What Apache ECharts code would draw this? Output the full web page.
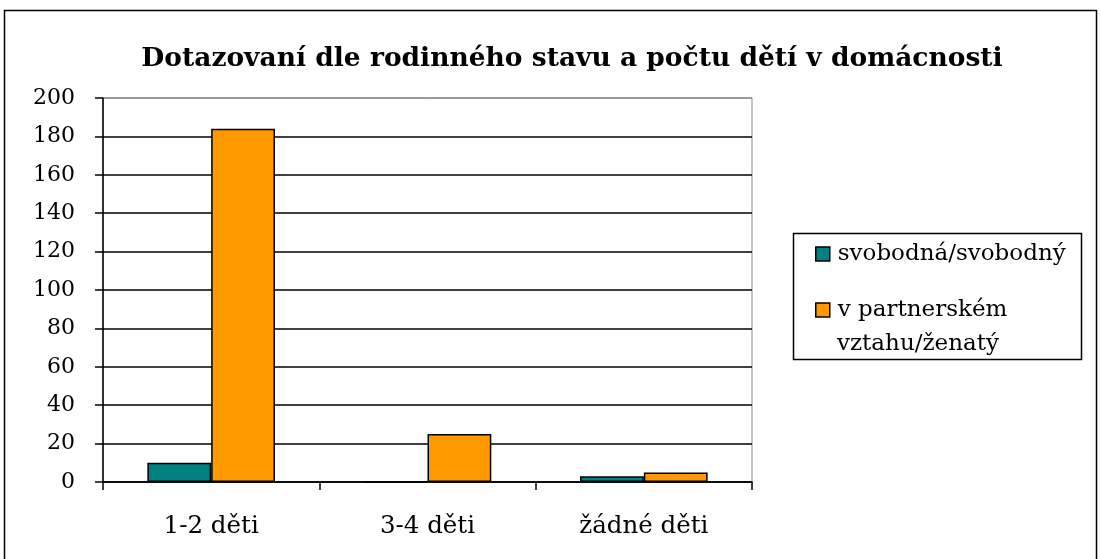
<!DOCTYPE html>
<html><head><meta charset="utf-8">
<script src="https://cdn.jsdelivr.net/npm/echarts@6/dist/echarts.min.js"></script>
<style>html,body{margin:0;padding:0;background:#fff}#c{width:1101px;height:559px}</style>
</head><body><div id="c"></div>
<script>
const categories = ['1-2 děti', '3-4 děti', 'žádné děti'];
const seriesNames = ['svobodná/svobodný', 'v partnerském vztahu/ženatý'];
const legendLines = ['svobodná/svobodný', 'v partnerském', 'vztahu/ženatý'];
const singleValues = [10, 0, 3];
const partnerValues = [184, 25, 5];
const yTicks = [0, 200, 20];

const FONT = 'DejaVu Serif';
const chart = echarts.init(document.getElementById('c'));
const splitColors = [];
for (let v = yTicks[0]; v <= yTicks[1]; v += yTicks[2]) splitColors.push(v === yTicks[1] ? '#8c8c8c' : '#000');
chart.setOption({
  animation: false,
  title: {
    text: 'Dotazovaní dle rodinného stavu a počtu dětí v domácnosti',
    left: 567, top: 41, textAlign: 'center',
    textStyle: {fontFamily: FONT, fontWeight: 'bold', fontSize: 26.5, color: '#000'}
  },
  graphic: [
    {type: 'rect', shape: {x: 4.5, y: 10.5, width: 1092, height: 600}, style: {fill: 'none', stroke: '#000', lineWidth: 1.5}, silent: true},
    {type: 'rect', shape: {x: 793.5, y: 233.5, width: 288, height: 126}, style: {fill: 'none', stroke: '#000', lineWidth: 1.5}, silent: true},
    {type: 'text', x: 837, y: 344, style: {text: legendLines[2], fontFamily: FONT, fontSize: 23, fill: '#000', verticalAlign: 'middle'}, silent: true}
  ],
  legend: {
    orient: 'vertical', left: 815, top: 239, padding: 0, itemWidth: 14, itemHeight: 14, itemGap: 26,
    icon: 'rect',
    itemStyle: {borderColor: '#000', borderWidth: 1.5},
    textStyle: {fontFamily: FONT, fontSize: 23, color: '#000', lineHeight: 30, padding: [0, 0, 0, 3]},
    formatter: n => n === seriesNames[1] ? legendLines[1] : legendLines[0],
    data: seriesNames
  },
  grid: {left: 103, right: 349, top: 98, bottom: 77, show: true, borderColor: '#8c8c8c', borderWidth: 1},
  xAxis: {
    type: 'category', data: categories,
    axisLine: {lineStyle: {color: '#000', width: 1.5}},
    axisTick: {show: true, length: 8, lineStyle: {color: '#000', width: 1.5}},
    axisLabel: {fontFamily: FONT, fontSize: 24.5, color: '#000', margin: 32}
  },
  yAxis: {
    type: 'value', min: yTicks[0], max: yTicks[1], interval: yTicks[2],
    axisLine: {show: true, lineStyle: {color: '#000', width: 1.5}},
    axisTick: {show: true, length: 8, lineStyle: {color: '#000', width: 1.5}},
    axisLabel: {fontFamily: FONT, fontSize: 22, color: '#000', margin: 28},
    splitLine: {lineStyle: {color: splitColors, width: 1.5}}
  },
  series: [
    {name: seriesNames[0], type: 'bar', data: singleValues, barGap: '0%', barCategoryGap: '41%',
     itemStyle: {color: '#008080', borderColor: '#000', borderWidth: 1.5}},
    {name: seriesNames[1], type: 'bar', data: partnerValues, barGap: '0%', barCategoryGap: '41%',
     itemStyle: {color: '#FF9900', borderColor: '#000', borderWidth: 1.5}}
  ]
});
</script></body></html>
